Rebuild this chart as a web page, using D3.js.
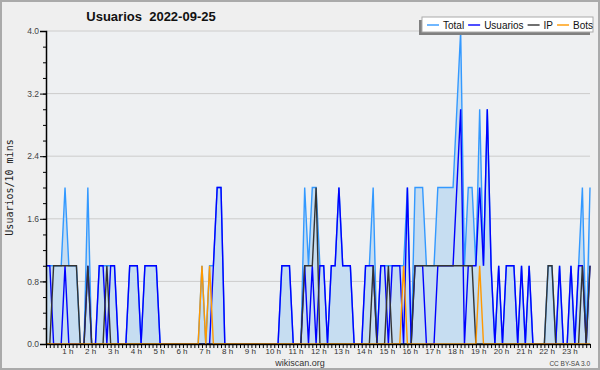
<!DOCTYPE html>
<html>
<head>
<meta charset="utf-8">
<script src="https://cdn.jsdelivr.net/npm/d3@7"></script>
<style>
  body { margin: 0; background: #efefef; }
  svg { display: block; }
</style>
</head>
<body>
<svg id="chart" width="600" height="370"></svg>
<script>
// Valores cada 10 minutos (144 intervalos)
const total = [
  1,1,1,1,1,2,1,1,1,0,0,2,
  0,0,1,1,1,1,1,0,0,0,1,1,
  1,0,1,1,1,1,0,0,0,0,0,0,
  0,0,0,0,0,1,0,1,1,2,2,0,
  0,0,0,0,0,0,0,0,0,0,0,0,
  0,0,1,1,1,0,0,0,2,1,2,2,
  1,1,0,1,1,2,1,1,1,0,0,0,
  1,1,2,0,1,1,1,1,1,1,1,2,
  0,2,2,2,1,1,1,2,2,2,2,2,
  3,4,1,2,2,1,3,1,3,1,0,1,
  0,1,1,1,0,1,0,1,0,0,0,0,
  1,1,0,1,0,0,1,0,1,2,0,2
];
const usuarios = [
  1,1,0,0,0,1,0,0,0,0,0,1,
  0,0,1,1,0,1,1,0,0,0,1,1,
  1,0,1,1,1,1,0,0,0,0,0,0,
  0,0,0,0,0,0,0,0,1,2,2,0,
  0,0,0,0,0,0,0,0,0,0,0,0,
  0,0,1,1,1,0,0,0,1,0,1,0,
  1,1,0,1,1,2,1,1,1,0,0,0,
  1,1,1,0,1,1,0,1,1,1,0,2,
  0,1,1,1,0,0,0,1,1,1,1,1,
  2,3,0,1,1,1,2,1,3,1,0,1,
  0,1,1,1,0,1,0,1,0,0,0,0,
  0,0,0,1,0,0,1,0,1,1,0,1
];
const ip = [
  0,0,1,1,1,1,1,1,1,0,0,1,
  0,0,0,0,1,0,0,0,0,0,0,0,
  0,0,0,0,0,0,0,0,0,0,0,0,
  0,0,0,0,0,0,0,0,0,0,0,0,
  0,0,0,0,0,0,0,0,0,0,0,0,
  0,0,0,0,0,0,0,0,1,1,1,2,
  0,0,0,0,0,0,0,0,0,0,0,0,
  0,0,1,0,0,0,1,0,0,0,0,0,
  0,1,1,1,1,1,1,1,1,1,1,1,
  1,1,1,1,1,0,0,0,0,0,0,0,
  0,0,0,0,0,0,0,0,0,0,0,0,
  1,1,0,0,0,0,0,0,0,1,0,1
];
const bots = [
  0,0,0,0,0,0,0,0,0,0,0,0,
  0,0,0,0,0,0,0,0,0,0,0,0,
  0,0,0,0,0,0,0,0,0,0,0,0,
  0,0,0,0,0,1,0,1,0,0,0,0,
  0,0,0,0,0,0,0,0,0,0,0,0,
  0,0,0,0,0,0,0,0,0,0,0,0,
  0,0,0,0,0,0,0,0,0,0,0,0,
  0,0,0,0,0,0,0,0,0,0,1,0,
  0,0,0,0,0,0,0,0,0,0,0,0,
  0,0,0,0,0,0,1,0,0,0,0,0,
  0,0,0,0,0,0,0,0,0,0,0,0,
  0,0,0,0,0,0,0,0,0,0,0,0
];
const yTicks = [0, 0.8, 1.6, 2.4, 3.2, 4.0];
const hourLabels = d3.range(1, 24).map(h => h + " h");

const series = [
  {name: "Total", values: total, color: "#3399ff"},
  {name: "Usuarios", values: usuarios, color: "#0000ff"},
  {name: "IP", values: ip, color: "#333333"},
  {name: "Bots", values: bots, color: "#ff9900"}
];

const width = 600, height = 370;
const margin = {top: 31, right: 10, bottom: 26, left: 46};

const svg = d3.select("#chart");

// fondo y borde
svg.append("rect")
  .attr("x", 1).attr("y", 1)
  .attr("width", width - 2).attr("height", height - 2)
  .attr("fill", "#efefef")
  .attr("stroke", "#aaaaaa")
  .attr("stroke-width", 2);

const x = d3.scaleLinear().domain([0, total.length - 1]).range([margin.left, width - margin.right]);
const y = d3.scaleLinear().domain([0, 4]).range([height - margin.bottom, margin.top]);

svg.append("rect")
  .attr("x", margin.left).attr("y", margin.top)
  .attr("width", x.range()[1] - margin.left)
  .attr("height", y(0) - margin.top)
  .attr("fill", "#eef0f2");

// rejilla
svg.append("g")
  .selectAll("line")
  .data(yTicks.filter(d => d > 0))
  .join("line")
  .attr("x1", margin.left).attr("x2", x.range()[1])
  .attr("y1", d => y(d)).attr("y2", d => y(d))
  .attr("stroke", "#cccccc")
  .attr("stroke-width", 1);

// área del total
svg.append("path")
  .datum(total)
  .attr("fill", "#c6ddf1")
  .attr("d", d3.area().x((d, i) => x(i)).y0(y(0)).y1(d => y(d)));

const line = d3.line().x((d, i) => x(i)).y(d => y(d));

svg.append("g")
  .selectAll("path")
  .data(series)
  .join("path")
  .attr("fill", "none")
  .attr("stroke", d => d.color)
  .attr("stroke-width", 1.4)
  .attr("d", d => line(d.values));

// ejes
const yAxis = svg.append("g")
  .attr("transform", `translate(${margin.left},0)`)
  .call(d3.axisLeft(y).tickValues(yTicks).tickFormat(d3.format(".1f")).tickSize(6).tickPadding(1));
svg.append("g")
  .attr("transform", `translate(${margin.left},0)`)
  .call(d3.axisLeft(y).tickValues(d3.range(0, 4.01, 0.2)).tickFormat("").tickSize(3))
  .select(".domain").remove();

svg.append("g")
  .attr("transform", `translate(0,${y(0)})`)
  .call(d3.axisBottom(x).tickValues(d3.range(0, total.length)).tickFormat("").tickSize(4).tickSizeOuter(0));

svg.append("g")
  .selectAll("text")
  .data(hourLabels)
  .join("text")
  .attr("x", (d, i) => x((i + 1) * 6) - 1)
  .attr("y", y(0) + 10)
  .attr("text-anchor", "middle")
  .attr("font-family", "Liberation Sans, Arial, sans-serif")
  .attr("font-size", 8)
  .attr("fill", "#333")
  .text(d => d);

svg.selectAll(".domain").attr("stroke", "#000").attr("stroke-width", 1.5);
svg.selectAll(".tick line").attr("stroke", "#000");
yAxis.selectAll("text")
  .attr("font-family", "Liberation Sans, Arial, sans-serif")
  .attr("font-size", 8.5)
  .attr("fill", "#444");

// títulos
svg.append("text")
  .attr("x", 151).attr("y", 21)
  .attr("text-anchor", "middle")
  .attr("font-family", "Liberation Sans, Arial, sans-serif")
  .attr("font-weight", "bold")
  .attr("font-size", 13)
  .attr("fill", "#111")
  .text("Usuarios\u00a0\u00a02022-09-25");

svg.append("text")
  .attr("transform", `translate(13,${(y(0) + y(4)) / 2}) rotate(-90)`)
  .attr("text-anchor", "middle")
  .attr("font-family", "DejaVu Sans Mono, monospace")
  .attr("font-size", 10)
  .attr("fill", "#222")
  .text("Usuarios/10 mins");

svg.append("text")
  .attr("x", 300).attr("y", 366)
  .attr("text-anchor", "middle")
  .attr("font-family", "Liberation Sans, Arial, sans-serif")
  .attr("font-size", 9)
  .attr("fill", "#333")
  .text("wikiscan.org");

svg.append("text")
  .attr("x", 590).attr("y", 366)
  .attr("text-anchor", "end")
  .attr("font-family", "Liberation Sans, Arial, sans-serif")
  .attr("font-size", 6.5)
  .attr("fill", "#444")
  .text("CC BY-SA 3.0");

// leyenda
const legend = svg.append("g").attr("transform", "translate(422,17)");
legend.append("rect")
  .attr("x", -3).attr("y", 3).attr("width", 171).attr("height", 15)
  .attr("fill", "#808080");
legend.append("rect")
  .attr("x", 0).attr("y", 0).attr("width", 171).attr("height", 15)
  .attr("fill", "#ffffff").attr("stroke", "#aaaaaa").attr("stroke-width", 1);

let lx = 5;
series.forEach(s => {
  legend.append("line")
    .attr("x1", lx).attr("x2", lx + 12)
    .attr("y1", 8).attr("y2", 8)
    .attr("stroke", s.color).attr("stroke-width", 1.4);
  const t = legend.append("text")
    .attr("x", lx + 16).attr("y", 11.5)
    .attr("font-family", "Liberation Sans, Arial, sans-serif")
    .attr("font-size", 10)
    .attr("fill", "#111")
    .text(s.name);
  lx += 16 + t.node().getComputedTextLength() + 4;
});
</script>
</body>
</html>
